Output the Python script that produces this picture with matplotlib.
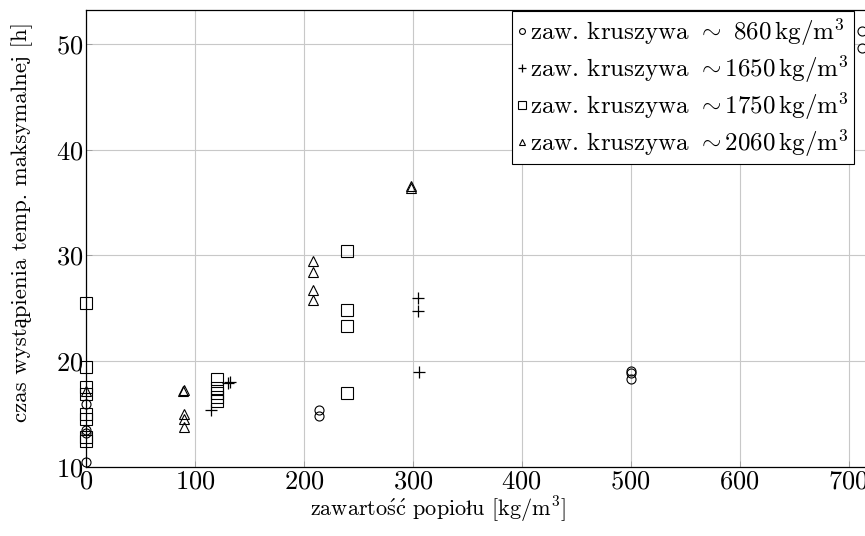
import numpy as np
import matplotlib
matplotlib.use("Agg")
import matplotlib.pyplot as plt

plt.rcParams['font.family'] = ['cmr10', 'Liberation Serif']
plt.rcParams['mathtext.fontset'] = 'cm'
plt.rcParams['axes.formatter.use_mathtext'] = True

# Dane: kruszywo ~860 kg/m3
x_860 = [0, 0, 0, 0, 214, 214, 500, 500, 500, 712, 712]
y_860 = [16.0, 13.5, 13.2, 10.5, 15.4, 14.8, 19.1, 18.9, 18.3, 51.2, 49.6]

# kruszywo ~1650 kg/m3
x_1650 = [115, 130, 132, 305, 305, 306]
y_1650 = [15.4, 17.9, 18.0, 26.0, 24.7, 19.0]

# kruszywo ~1750 kg/m3
x_1750 = [0, 0, 0, 0, 0, 0, 0, 0, 120, 120, 120, 120, 120, 240, 240, 240, 240]
y_1750 = [25.5, 19.5, 17.6, 16.9, 15.0, 14.5, 12.8, 12.5,
          18.3, 17.5, 17.0, 16.6, 16.2, 30.4, 24.8, 23.3, 17.0]

# kruszywo ~2060 kg/m3
x_2060 = [0, 89, 90, 90, 90, 90, 208, 208, 208, 208, 298, 298]
y_2060 = [17.2, 17.2, 17.25, 15.0, 14.5, 13.8, 29.5, 28.4, 26.7, 25.8, 36.6, 36.4]

labels = [r'zaw. kruszywa ${\sim}$ 860$\,\mathrm{kg/m^3}$',
          r'zaw. kruszywa ${\sim}$1650$\,\mathrm{kg/m^3}$',
          r'zaw. kruszywa ${\sim}$1750$\,\mathrm{kg/m^3}$',
          r'zaw. kruszywa ${\sim}$2060$\,\mathrm{kg/m^3}$']

fig = plt.figure(figsize=(8.65, 5.36), dpi=100)
ax = fig.add_axes([86/865, 1 - 467/536, 817/865, 457/536])

ax.plot(x_860, y_860, 'o', ms=6.5, mfc='none', mec='black', mew=0.8, clip_on=False, label=labels[0])
ax.plot(x_1650, y_1650, '+', ms=8, mec='black', mew=0.9, clip_on=False, label=labels[1])
ax.plot(x_1750, y_1750, 's', ms=8, mfc='none', mec='black', mew=0.8, clip_on=False, label=labels[2])
ax.plot(x_2060, y_2060, '^', ms=6.5, mfc='none', mec='black', mew=0.8, clip_on=False, label=labels[3])

ax.set_xlim(0, 750)
ax.set_ylim(10, 53.2)
ax.set_xticks(np.arange(0, 800, 100))
ax.set_yticks([10, 20, 30, 40, 50])
ax.grid(True, color='#c8c8c8', lw=0.8)
ax.set_axisbelow(True)
ax.tick_params(direction='in', length=4, width=0.6, color='#999999', labelsize=19, pad=2)
for s in ax.spines.values():
    s.set_linewidth(0.9)

# opisy osi
fig.text(438/865, 1 - 510/536,
         r'zawarto$\acute{\mathrm{s}}\acute{\mathrm{c}}$ popio$\mathrm{\l}$u [kg/m$^3$]',
         fontsize=16, ha='center', va='center')
fig.text(22/865, 1 - 222/536, 'czas wystąpienia temp. maksymalnej [h]', fontsize=16.5,
         rotation=90, ha='center', va='center')

leg = ax.legend(loc='upper right', bbox_to_anchor=(854/865, 1 - 11/536),
                bbox_transform=fig.transFigure, borderaxespad=0, fontsize=18,
                fancybox=False, edgecolor='black', framealpha=1,
                handlelength=0.4, handletextpad=0.15, markerscale=0.65,
                borderpad=0.2, labelspacing=0.2)
leg.get_frame().set_linewidth(0.8)

fig.savefig('out.png', dpi=100)
